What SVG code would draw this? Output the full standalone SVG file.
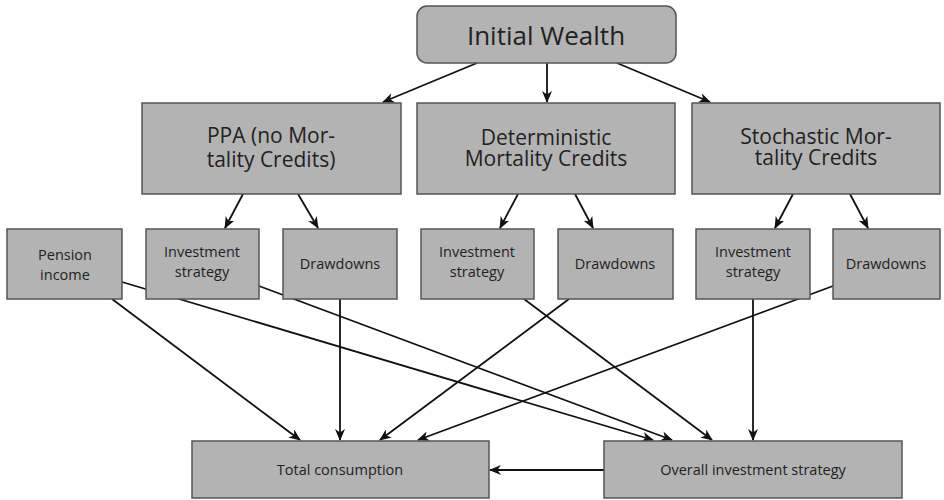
<svg xmlns="http://www.w3.org/2000/svg" width="944" height="500" viewBox="0 0 944 500">
<style>
.box{fill:#b3b3b3;stroke:#555;stroke-width:1.5}
.t{font-family:"Open Sans","Noto Sans",sans-serif;fill:#222;text-anchor:middle}
.big{font-size:26px}
.mid{font-size:21px}
.sm{font-size:14.5px}
.bt{font-size:14.5px}
.c{fill:none;stroke:#111;stroke-width:1.8;marker-end:url(#ah)}
</style>
<defs>
<marker id="ah" viewBox="0 0 12 10" refX="11" refY="5" markerWidth="12" markerHeight="10" markerUnits="userSpaceOnUse" orient="auto">
<path d="M0,0 L12,5 L0,10 L3.5,5 z" fill="#111"/>
</marker>
</defs>
<g id="connectors">
<line class="c" x1="477" y1="63" x2="383" y2="102"/>
<line class="c" x1="547" y1="63" x2="547" y2="102"/>
<line class="c" x1="617" y1="63" x2="710" y2="102"/>
<line class="c" x1="243" y1="194" x2="225" y2="228"/>
<line class="c" x1="298" y1="194" x2="318" y2="228"/>
<line class="c" x1="518" y1="194" x2="500" y2="228"/>
<line class="c" x1="575" y1="194" x2="593" y2="228"/>
<line class="c" x1="793" y1="194" x2="775" y2="228"/>
<line class="c" x1="850" y1="194" x2="868" y2="228"/>
<line class="c" x1="112" y1="299" x2="300" y2="440"/>
<line class="c" x1="122" y1="282" x2="653" y2="440"/>
<line class="c" x1="259" y1="286" x2="672" y2="440"/>
<line class="c" x1="340" y1="299" x2="340" y2="440"/>
<line class="c" x1="569" y1="299" x2="380" y2="440"/>
<line class="c" x1="833" y1="286" x2="418" y2="440"/>
<line class="c" x1="524" y1="299" x2="712" y2="440"/>
<line class="c" x1="753" y1="299" x2="753" y2="440"/>
<line class="c" x1="604" y1="470" x2="490" y2="470"/>
</g>
<g id="initial-wealth">
<rect class="box" x="417" y="6" width="259" height="57" rx="10"/>
<text class="t big" x="546" y="45">Initial Wealth</text>
</g>
<g id="ppa">
<rect class="box" x="142" y="103" width="259" height="91"/>
<text class="t mid" x="271" y="143">PPA (no Mor-<tspan x="271" dy="24">tality Credits)</tspan></text>
</g>
<g id="deterministic">
<rect class="box" x="417" y="103" width="258" height="91"/>
<text class="t mid" x="546" y="145">Deterministic<tspan x="546" dy="21">Mortality Credits</tspan></text>
</g>
<g id="stochastic">
<rect class="box" x="692" y="103" width="248" height="91"/>
<text class="t mid" x="816" y="144">Stochastic Mor-<tspan x="816" dy="21">tality Credits</tspan></text>
</g>
<g id="pension-income">
<rect class="box" x="7" y="229" width="115" height="70"/>
<text class="t sm" x="65" y="260">Pension<tspan x="65" dy="20">income</tspan></text>
</g>
<g id="ppa-investment">
<rect class="box" x="146" y="229" width="113" height="70"/>
<text class="t sm" x="202" y="257">Investment<tspan x="202" dy="20">strategy</tspan></text>
</g>
<g id="ppa-drawdowns">
<rect class="box" x="283" y="229" width="114" height="70"/>
<text class="t sm" x="340" y="269">Drawdowns</text>
</g>
<g id="det-investment">
<rect class="box" x="421" y="229" width="113" height="70"/>
<text class="t sm" x="477" y="257">Investment<tspan x="477" dy="20">strategy</tspan></text>
</g>
<g id="det-drawdowns">
<rect class="box" x="558" y="229" width="115" height="70"/>
<text class="t sm" x="615" y="269">Drawdowns</text>
</g>
<g id="stoch-investment">
<rect class="box" x="696" y="229" width="114" height="70"/>
<text class="t sm" x="753" y="257">Investment<tspan x="753" dy="20">strategy</tspan></text>
</g>
<g id="stoch-drawdowns">
<rect class="box" x="833" y="229" width="107" height="70"/>
<text class="t sm" x="886" y="269">Drawdowns</text>
</g>
<g id="total-consumption">
<rect class="box" x="192" y="441" width="297" height="57"/>
<text class="t bt" x="340" y="475">Total consumption</text>
</g>
<g id="overall-investment">
<rect class="box" x="604" y="441" width="298" height="57"/>
<text class="t bt" x="753" y="475">Overall investment strategy</text>
</g>
</svg>
